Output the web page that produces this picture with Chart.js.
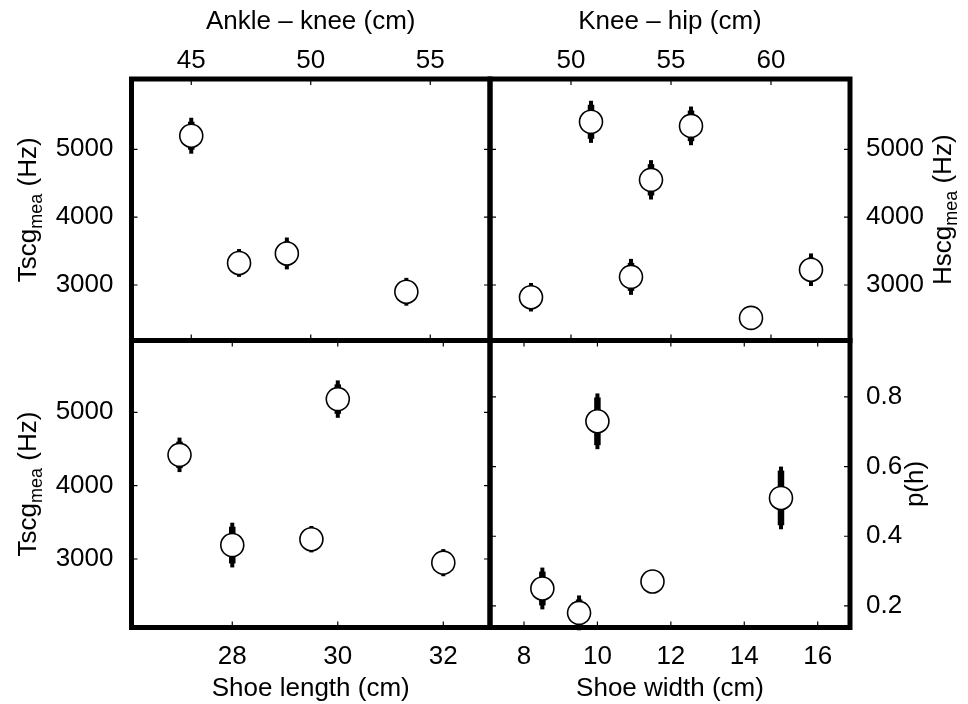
<!DOCTYPE html>
<html>
<head>
<meta charset="utf-8">
<script src="https://cdn.jsdelivr.net/npm/chart.js@4.4.1/dist/chart.umd.min.js"></script>
<style>
  html, body { margin: 0; padding: 0; background: #fff; }
  #wrap { position: relative; width: 968px; height: 704px; }
</style>
</head>
<body>
<div id="wrap"><canvas id="c" width="968" height="704"></canvas></div>
<script>
// Ankle – knee length vs. Tscg
const ankleKnee = [45, 47, 49, 54];
const ankleKneeTscg = [5200, 3325, 3465, 2900];
const ankleKneeErr = [265, 205, 235, 205];

// Knee – hip length vs. Hscg
const kneeHip = [48, 51, 53, 54, 56, 59, 62];
const kneeHipHscg = [2820, 5405, 3120, 4550, 5345, 2515, 3225];
const kneeHipErr = [210, 310, 265, 290, 285, 120, 240];

// Shoe length vs. Tscg
const shoeLength = [27, 28, 29.5, 30, 32];
const shoeLengthTscg = [4420, 3190, 3270, 5180, 2950];
const shoeLengthErr = [235, 305, 180, 255, 185];

// Shoe width vs. p(h)
const shoeWidth = [8.5, 9.5, 10, 11.5, 15];
const shoeWidthPh = [0.25, 0.18, 0.73, 0.27, 0.51];
const shoeWidthErr = [0.06, 0.05, 0.08, 0.02, 0.09];

// Tick values
const ankleKneeTicks = [45, 50, 55];
const kneeHipTicks = [50, 55, 60];
const shoeLengthTicks = [28, 30, 32];
const shoeWidthTicks = [8, 10, 12, 14, 16];
const scgTicks = [3000, 4000, 5000];
const phTicks = [0.2, 0.4, 0.6, 0.8];

const FAMILY = '"Liberation Sans", Arial, Helvetica, sans-serif';
const FONT = { family: FAMILY, size: 26 };

function toPoints(xs, ys) {
  return xs.map((x, i) => ({ x: x, y: ys[i] }));
}

function dataset(label, xs, ys, errs, xAxisID, yAxisID) {
  return {
    label: label,
    data: toPoints(xs, ys),
    errors: errs,
    xAxisID: xAxisID,
    yAxisID: yAxisID,
    pointStyle: 'circle',
    pointRadius: 11.5,
    pointHoverRadius: 11.5,
    pointBorderWidth: 1.6,
    pointBackgroundColor: '#ffffff',
    pointBorderColor: '#000000',
    showLine: false
  };
}

function fixedTicks(values) {
  return function (scale) {
    scale.ticks = values.map(v => ({ value: v }));
  };
}

function xAxis(opts) {
  return {
    type: 'linear',
    position: opts.position,
    stack: opts.position + 'Stack',
    stackWeight: opts.stackWeight,
    weight: opts.weight,
    min: opts.min,
    max: opts.max,
    afterBuildTicks: fixedTicks(opts.ticks),
    afterFit: (s) => { s.height = opts.size; },
    grid: { display: false },
    border: { display: false },
    ticks: {
      font: FONT, color: '#000', padding: opts.pad,
      autoSkip: false, maxRotation: 0,
      callback: (v) => String(v)
    },
    title: {
      display: true, text: opts.title, font: FONT, color: '#000',
      padding: opts.titlePad
    }
  };
}

function yAxis(opts) {
  return {
    type: 'linear',
    position: opts.position,
    stack: opts.position + 'Stack',
    stackWeight: opts.stackWeight,
    weight: opts.weight,
    min: opts.min,
    max: opts.max,
    afterBuildTicks: fixedTicks(opts.ticks),
    afterFit: (s) => { s.width = opts.size; },
    grid: { display: false },
    border: { display: false },
    ticks: {
      font: FONT, color: '#000', padding: opts.pad,
      autoSkip: false,
      callback: (v) => String(v)
    },
    title: { display: false }
  };
}

// Vertical error bars under each marker
const errorBarPlugin = {
  id: 'errorBars',
  beforeDatasetsDraw(chart) {
    const ctx = chart.ctx;
    ctx.save();
    ctx.strokeStyle = '#000';
    ctx.lineCap = 'butt';
    chart.data.datasets.forEach((ds) => {
      const xs = chart.scales[ds.xAxisID];
      const ys = chart.scales[ds.yAxisID];
      ds.data.forEach((p, j) => {
        const e = ds.errors[j];
        const px = xs.getPixelForValue(p.x);
        const yTop = ys.getPixelForValue(p.y + e);
        const yBot = ys.getPixelForValue(p.y - e);
        ctx.lineWidth = 4;
        ctx.beginPath();
        ctx.moveTo(px, yTop);
        ctx.lineTo(px, yBot);
        ctx.stroke();
        if (yBot - yTop > 10) {
          ctx.lineWidth = 6.5;
          ctx.beginPath();
          ctx.moveTo(px, yTop + 4);
          ctx.lineTo(px, yBot - 4);
          ctx.stroke();
        }
      });
    });
    ctx.restore();
  }
};

// Panel frames, inward tick marks and rotated y titles with subscripts
const PANELS = [
  { x: 'xTL', y: 'yTL' },
  { x: 'xTR', y: 'yTR' },
  { x: 'xBL', y: 'yBL' },
  { x: 'xBR', y: 'yBR' }
];

function drawRotatedTitle(ctx, cx, cy, parts) {
  ctx.save();
  ctx.translate(cx, cy);
  ctx.rotate(-Math.PI / 2);
  ctx.fillStyle = '#000';
  ctx.textBaseline = 'alphabetic';
  ctx.textAlign = 'left';
  let total = 0;
  parts.forEach(p => {
    ctx.font = p.size + 'px ' + FAMILY;
    p.w = ctx.measureText(p.text).width;
    total += p.w;
  });
  let x = -total / 2;
  parts.forEach(p => {
    ctx.font = p.size + 'px ' + FAMILY;
    ctx.fillText(p.text, x, 9.3 + (p.shift || 0));
    x += p.w;
  });
  ctx.restore();
}

const framePlugin = {
  id: 'frames',
  afterDraw(chart) {
    const ctx = chart.ctx;
    ctx.save();
    ctx.strokeStyle = '#000';
    PANELS.forEach(pn => {
      const xs = chart.scales[pn.x];
      const ys = chart.scales[pn.y];
      const l = xs.left, r = xs.right, t = ys.top, b = ys.bottom;
      ctx.lineWidth = 1.2;
      ctx.beginPath();
      xs.ticks.forEach(tk => {
        const px = xs.getPixelForValue(tk.value);
        ctx.moveTo(px, t); ctx.lineTo(px, t + 6);
        ctx.moveTo(px, b); ctx.lineTo(px, b - 6);
      });
      ys.ticks.forEach(tk => {
        const py = ys.getPixelForValue(tk.value);
        ctx.moveTo(l, py); ctx.lineTo(l + 6, py);
        ctx.moveTo(r, py); ctx.lineTo(r - 6, py);
      });
      ctx.stroke();
      ctx.lineWidth = 5;
      ctx.strokeRect(l, t, r - l, b - t);
    });
    ctx.restore();

    const yTL = chart.scales.yTL, yBL = chart.scales.yBL;
    const yTR = chart.scales.yTR, yBR = chart.scales.yBR;
    const tscg = [
      { text: 'Tscg', size: 26 },
      { text: 'mea', size: 18, shift: 6 },
      { text: ' (Hz)', size: 26 }
    ];
    drawRotatedTitle(ctx, yTL.left + 27, (yTL.top + yTL.bottom) / 2, tscg);
    drawRotatedTitle(ctx, yBL.left + 27, (yBL.top + yBL.bottom) / 2, tscg);
    drawRotatedTitle(ctx, yTR.right - 26, (yTR.top + yTR.bottom) / 2, [
      { text: 'Hscg', size: 26 },
      { text: 'mea', size: 18, shift: 6 },
      { text: ' (Hz)', size: 26 }
    ]);
    drawRotatedTitle(ctx, yBR.right - 54, (yBR.top + yBR.bottom) / 2, [
      { text: 'p(h)', size: 26 }
    ]);
  }
};

new Chart(document.getElementById('c'), {
  type: 'scatter',
  data: {
    datasets: [
      dataset('Ankle – knee', ankleKnee, ankleKneeTscg, ankleKneeErr, 'xTL', 'yTL'),
      dataset('Knee – hip', kneeHip, kneeHipHscg, kneeHipErr, 'xTR', 'yTR'),
      dataset('Shoe length', shoeLength, shoeLengthTscg, shoeLengthErr, 'xBL', 'yBL'),
      dataset('Shoe width', shoeWidth, shoeWidthPh, shoeWidthErr, 'xBR', 'yBR')
    ]
  },
  options: {
    responsive: false,
    animation: false,
    devicePixelRatio: 1,
    events: [],
    layout: { padding: 0 },
    plugins: {
      legend: { display: false },
      tooltip: { enabled: false },
      title: { display: false }
    },
    scales: {
      xTL: xAxis({ position: 'top', stackWeight: 358.5, weight: 2, min: 42.5, max: 57.5,
        ticks: ankleKneeTicks, size: 79, pad: -5, title: 'Ankle – knee (cm)', titlePad: { top: 6, bottom: 0 } }),
      xTR: xAxis({ position: 'top', stackWeight: 360, weight: 1, min: 45.95, max: 63.95,
        ticks: kneeHipTicks, size: 79, pad: -5, title: 'Knee – hip (cm)', titlePad: { top: 6, bottom: 0 } }),
      xBL: xAxis({ position: 'bottom', stackWeight: 358.5, weight: 1, min: 26.09, max: 32.885,
        ticks: shoeLengthTicks, size: 76.5, pad: 6, title: 'Shoe length (cm)', titlePad: { top: 0, bottom: 0 } }),
      xBR: xAxis({ position: 'bottom', stackWeight: 360, weight: 2, min: 7.074, max: 16.88,
        ticks: shoeWidthTicks, size: 76.5, pad: 6, title: 'Shoe width (cm)', titlePad: { top: 0, bottom: 0 } }),
      yTL: yAxis({ position: 'left', stackWeight: 261.5, weight: 2, min: 2182, max: 6036,
        ticks: scgTicks, size: 131.5, pad: 10 }),
      yBL: yAxis({ position: 'left', stackWeight: 287, weight: 1, min: 2066, max: 5979,
        ticks: scgTicks, size: 131.5, pad: 10 }),
      yTR: yAxis({ position: 'right', stackWeight: 261.5, weight: 1, min: 2182, max: 6036,
        ticks: scgTicks, size: 118, pad: 8 }),
      yBR: yAxis({ position: 'right', stackWeight: 287, weight: 2, min: 0.138, max: 0.962,
        ticks: phTicks, size: 118, pad: 8 })
    }
  },
  plugins: [errorBarPlugin, framePlugin]
});
</script>
</body>
</html>
